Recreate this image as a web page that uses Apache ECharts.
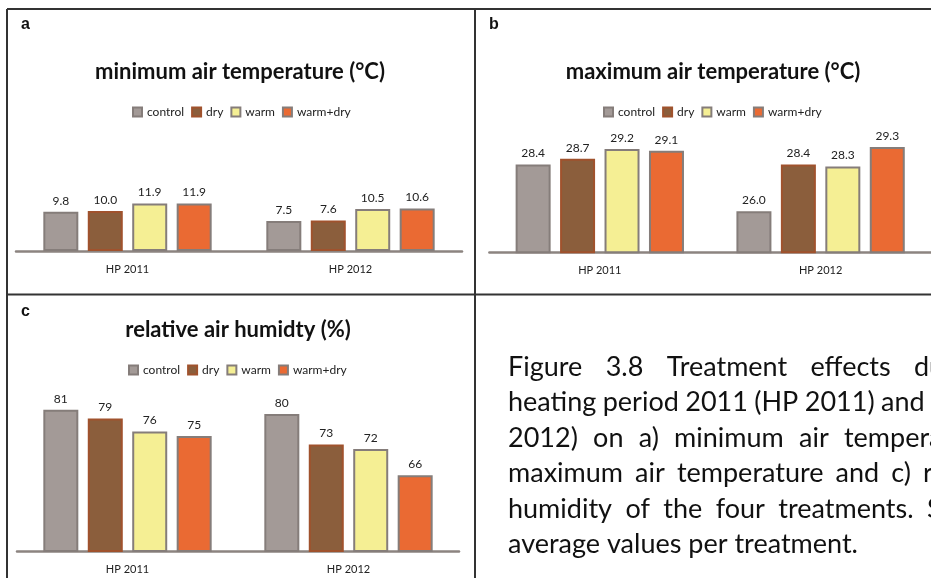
<!DOCTYPE html>
<html>
<head>
<meta charset="utf-8">
<script src="https://cdn.jsdelivr.net/npm/echarts@6/dist/echarts.min.js"></script>
<style>
html,body{margin:0;padding:0;background:#fff;}
#chart{width:931px;height:578px;}
</style>
</head>
<body>
<div id="chart"></div>
<script>
var categories = ['HP 2011', 'HP 2012'];
var treatments = ['control', 'dry', 'warm', 'warm+dry'];

var minTempControl = [9.8, 7.5];
var minTempDry = [10.0, 7.6];
var minTempWarm = [11.9, 10.5];
var minTempWarmDry = [11.9, 10.6];

var maxTempControl = [28.4, 26.0];
var maxTempDry = [28.7, 28.4];
var maxTempWarm = [29.2, 28.3];
var maxTempWarmDry = [29.1, 29.3];

var humControl = [81, 80];
var humDry = [79, 73];
var humWarm = [76, 72];
var humWarmDry = [75, 66];

var panelTitles = ['minimum air temperature (°C)', 'maximum air temperature (°C)', 'relative air humidty (%)'];
var panelLetters = ['a', 'b', 'c'];

var captionLines = [
  ['Figure', '3.8', 'Treatment', 'effects', 'during'],
  ['heating', 'period', '2011', '(HP', '2011)', 'and'],
  ['2012)', 'on', 'a)', 'minimum', 'air', 'temperature,'],
  ['maximum', 'air', 'temperature', 'and', 'c)', 'relative'],
  ['humidity', 'of', 'the', 'four', 'treatments.', 'Shown'],
  ['average', 'values', 'per', 'treatment.']
];
// layout: start x of each line, start x of last word (justified lines), null = natural spacing
var captionStart = 508;
var captionLastX = [914, 881, 844, 923, 927, null];
var captionY = [367, 402.5, 438, 473.5, 509, 544.5];

var panelData = [
  [minTempControl, minTempDry, minTempWarm, minTempWarmDry],
  [maxTempControl, maxTempDry, maxTempWarm, maxTempWarmDry],
  [humControl, humDry, humWarm, humWarmDry]
];
var decimals = [1, 1, 0];

var fills = ['#a39a97', '#8b5e3c', '#f5ef94', '#ea6a33'];
var borders = ['#857d7a', '#a0522d', '#857d7a', '#857d7a'];

var FONT = 'Lato';
var CAP_FONT = '27px ' + FONT;

var grids = [
  {left: 16, width: 446, top: 131, height: 120},
  {left: 489.4, width: 445.6, top: 133.3, height: 119},
  {left: 17, width: 442, top: 392.3, height: 158.7}
];
var yRanges = [[0, 30], [23.9, 30], [48.6, 85]];
var legendPos = [{left: 127, top: 101}, {left: 598, top: 101}, {left: 123, top: 359}];
var titlePos = [[240, 72], [713, 72], [238, 330]];
var letterPos = [[21, 25], [489, 25], [21, 312]];

var xAxes = [], yAxes = [], series = [], legends = [], graphics = [];
for (var p = 0; p < 3; p++) {
  xAxes.push({
    type: 'category', gridIndex: p, data: categories,
    axisLine: {show: true, lineStyle: {color: '#8c8480', width: 2.5}},
    axisTick: {show: false},
    axisLabel: {color: '#222', fontSize: 11, fontFamily: FONT, margin: 13}
  });
  yAxes.push({
    type: 'value', gridIndex: p, min: yRanges[p][0], max: yRanges[p][1],
    show: false, splitLine: {show: false}
  });
  legends.push({
    data: treatments, left: legendPos[p].left, top: legendPos[p].top,
    itemWidth: 9, itemHeight: 9, itemGap: 7, icon: 'rect',
    textStyle: {fontSize: 12, color: '#222', fontFamily: FONT},
    selectedMode: false
  });
  for (var t = 0; t < 4; t++) {
    (function (dec) {
      series.push({
        type: 'bar', name: treatments[t], xAxisIndex: p, yAxisIndex: p,
        data: panelData[p][t], barWidth: 35, barGap: '27%',
        itemStyle: {color: fills[t], borderColor: borders[t], borderWidth: 2},
        label: {show: true, position: 'top', distance: 5, fontSize: 12, color: '#222', fontFamily: FONT,
          formatter: function (prm) { return prm.value.toFixed(dec); }}
      });
    })(decimals[p]);
  }
  graphics.push({type: 'text', x: titlePos[p][0], y: titlePos[p][1],
    style: {text: panelTitles[p], font: 'bold 22px ' + FONT, fill: '#111', textAlign: 'center', textVerticalAlign: 'middle'}});
  graphics.push({type: 'text', x: letterPos[p][0], y: letterPos[p][1],
    style: {text: panelLetters[p], font: 'bold 16px "Liberation Sans"', fill: '#111', textAlign: 'left', textVerticalAlign: 'middle'}});
}

// frame lines
var lineStyle = {stroke: '#333', lineWidth: 2};
graphics.push({type: 'line', shape: {x1: 7, y1: 9, x2: 931, y2: 9}, style: lineStyle});
graphics.push({type: 'line', shape: {x1: 7, y1: 9, x2: 7, y2: 578}, style: lineStyle});
graphics.push({type: 'line', shape: {x1: 475, y1: 9, x2: 475, y2: 578}, style: lineStyle});
graphics.push({type: 'line', shape: {x1: 7, y1: 294.5, x2: 931, y2: 294.5}, style: lineStyle});

// caption (justified text: words spread between line start and last word start)
var mctx = document.createElement('canvas').getContext('2d');
mctx.font = CAP_FONT;
for (var i = 0; i < captionLines.length; i++) {
  var words = captionLines[i];
  if (captionLastX[i] === null) {
    graphics.push({type: 'text', x: captionStart, y: captionY[i],
      style: {text: words.join(' '), font: CAP_FONT, fill: '#111', textVerticalAlign: 'middle'}});
    continue;
  }
  var used = 0;
  for (var w = 0; w < words.length - 1; w++) used += mctx.measureText(words[w]).width;
  var gap = (captionLastX[i] - captionStart - used) / (words.length - 1);
  var x = captionStart;
  for (var w2 = 0; w2 < words.length; w2++) {
    graphics.push({type: 'text', x: x, y: captionY[i],
      style: {text: words[w2], font: CAP_FONT, fill: '#111', textVerticalAlign: 'middle'}});
    x += mctx.measureText(words[w2]).width + gap;
  }
}

var chart = echarts.init(document.getElementById('chart'), null, {renderer: 'canvas'});
chart.setOption({
  backgroundColor: '#fff',
  animation: false,
  grid: grids,
  xAxis: xAxes,
  yAxis: yAxes,
  legend: legends,
  series: series,
  graphic: graphics
});
</script>
</body>
</html>
